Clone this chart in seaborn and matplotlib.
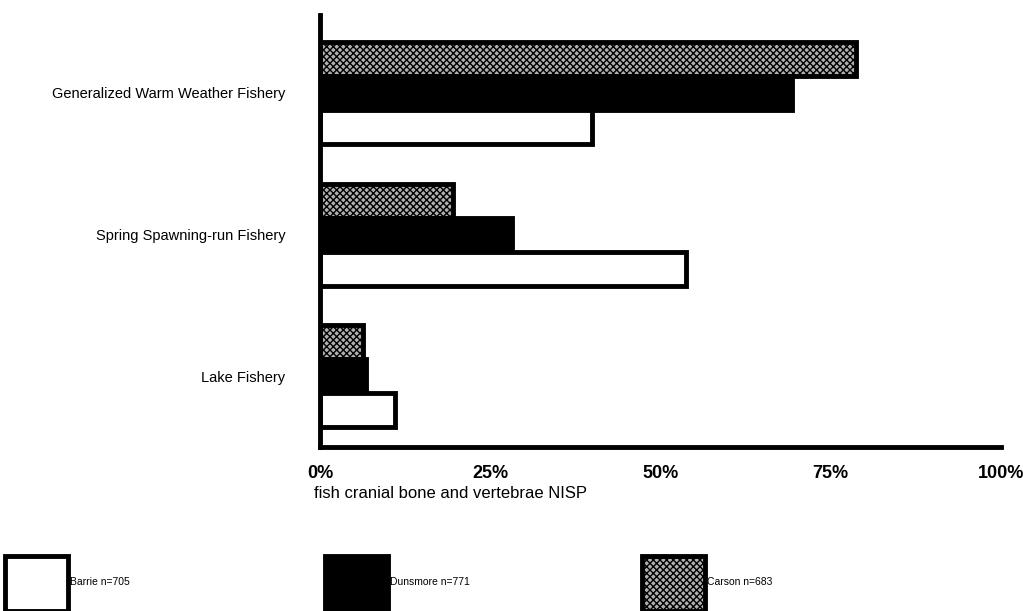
import matplotlib
matplotlib.use('Agg')
import matplotlib.pyplot as plt
from matplotlib.patches import Patch
import seaborn as sns
import pandas as pd

# values (% of fish cranial bone + vertebrae NISP)
fisheries = ["Generalized Warm Weather Fishery", "Spring Spawning-run Fishery", "Lake Fishery"]
sites = ["Carson n=683", "Dunsmore n=771", "Barrie n=705"]
carson = [78.7, 19.6, 6.3]
dunsmore = [69.3, 28.2, 6.7]
barrie = [40.0, 53.8, 11.0]
xticks = [0, 25, 50, 75, 100]
xticklabels = ["0%", "25%", "50%", "75%", "100%"]

rows = []
for site, vals in zip(sites, [carson, dunsmore, barrie]):
    for f, v in zip(fisheries, vals):
        rows.append({"fishery": f, "site": site, "pct": v})
df = pd.DataFrame(rows)

sns.set_style("white")
plt.rcParams['font.family'] = ['Liberation Sans', 'DejaVu Sans']

styles = {
    "Carson n=683": dict(facecolor='#b0b0b0', edgecolor='black', hatch='xxxxx'),
    "Dunsmore n=771": dict(facecolor='black', edgecolor='black'),
    "Barrie n=705": dict(facecolor='white', edgecolor='black'),
}

fig = plt.figure(figsize=(10.23, 6.11), dpi=100)
ax = fig.add_axes([0.3128, 0.2684, 0.6657, 0.7071])
sns.barplot(data=df, y='fishery', x='pct', hue='site', hue_order=sites, order=fisheries,
            orient='h', width=0.72, gap=0, errorbar=None, legend=False, ax=ax)

for cont, site in zip(ax.containers, sites):
    for bar in cont:
        bar.set(linewidth=3.5, **styles[site])

ax.set_xlim(0, 100)
ax.set_ylim(2.5, -0.55)
ax.set_xticks(xticks)
ax.set_xticklabels(xticklabels, fontsize=13, fontweight='bold', color='black')
ax.tick_params(axis='x', direction='out', length=8, width=3.5, pad=5, color='black')
ax.tick_params(axis='y', length=0, pad=25, labelsize=10.5, labelcolor='black')
ax.set_ylabel('')
ax.set_xlabel('fish cranial bone and vertebrae NISP', fontsize=12, loc='left', color='black')
ax.xaxis.set_label_coords(-0.009, -0.09)
sns.despine(ax=ax)
for s in ['left', 'bottom']:
    ax.spines[s].set_linewidth(3.5)
    ax.spines[s].set_color('black')

# legend: three separate entries spread along the bottom edge
for site, x0 in zip(["Barrie n=705", "Dunsmore n=771", "Carson n=683"], [5, 325, 642]):
    fig.legend(handles=[Patch(linewidth=3.5, label=site, **styles[site])],
               loc='lower left', bbox_to_anchor=(x0 / 1023, 0.0), frameon=False,
               fontsize=7.5, handlelength=6.0, handleheight=7.76, handletextpad=0.25,
               borderpad=0, borderaxespad=0, labelcolor='black')

fig.savefig('out.png', dpi=100, facecolor='white')
